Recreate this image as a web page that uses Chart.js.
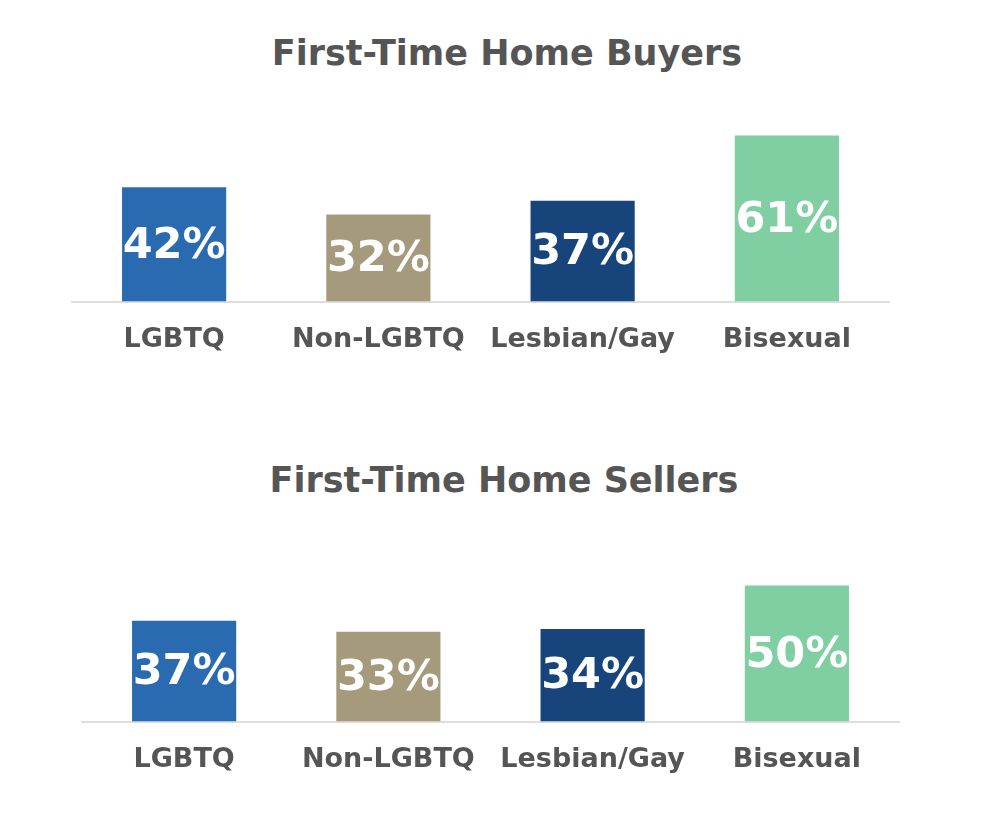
<!DOCTYPE html>
<html>
<head>
<meta charset="utf-8">
<script src="https://cdn.jsdelivr.net/npm/chart.js@4"></script>
<style>
  body { margin: 0; background: #fff; }
  #page { position: relative; width: 1002px; height: 818px; overflow: hidden; }
  .title {
    position: absolute; left: 0; width: 1014px; text-align: center;
    font-family: "DejaVu Sans", sans-serif; font-weight: bold; font-size: 35px;
    color: #555555; line-height: 40px;
  }
  .box { position: absolute; left: 0; width: 1002px; height: 267px; }
</style>
</head>
<body>
<div id="page">
  <div class="title" style="top:33px;">First-Time Home Buyers</div>
  <div class="box" style="top:111px;"><canvas id="buyersChart"></canvas></div>
  <div class="title" style="top:460px; width:1008px;">First-Time Home Sellers</div>
  <div class="box" style="top:531px;"><canvas id="sellersChart"></canvas></div>
</div>
<script>
let categories = ["LGBTQ", "Non-LGBTQ", "Lesbian/Gay", "Bisexual"];
let buyerValues = [42, 32, 37, 61];
let sellerValues = [37, 33, 34, 50];
let barColors = ["#2a6ab0", "#a69a7d", "#18447c", "#80cfa2"];

//white percent labels in the middle of each bar
let valueLabels = {
    id: "valueLabels",
    afterDatasetsDraw(chart) {
        let ctx = chart.ctx;
        let meta = chart.getDatasetMeta(0);
        ctx.save();
        ctx.fillStyle = "#fff";
        ctx.font = "bold 43px 'DejaVu Sans'";
        ctx.textAlign = "center";
        ctx.textBaseline = "middle";
        meta.data.forEach(function(bar, i) {
            let mid = (bar.y + bar.base) / 2;
            ctx.fillText(chart.data.datasets[0].data[i] + "%", bar.x, mid + 2);
        });
        ctx.restore();
    },
};

function makeChart(id, values, padLeft, padRight) {
    let canvas = document.getElementById(id).getContext("2d");
    return new Chart(canvas, {
        type: "bar",
        data: {
            labels: categories,
            datasets: [{
                data: values,
                backgroundColor: barColors,
                barPercentage: 0.51,
                categoryPercentage: 1,
            }, ],
        },
        options: {
            responsive: true,
            maintainAspectRatio: false,
            animation: false,
            layout: {
                padding: { left: padLeft, right: padRight, top: 0, bottom: 0 },
            },
            plugins: {
                legend: { display: false },
                tooltip: { enabled: false },
            },
            scales: {
                y: { display: false, min: 0, max: 70 },
                x: {
                    grid: { display: false, drawTicks: false },
                    border: { display: true, color: "#dedede", width: 2 },
                    ticks: {
                        padding: 22,
                        color: "#555555",
                        font: { family: "DejaVu Sans", weight: "bold", size: 27 },
                    },
                },
            },
        },
        plugins: [valueLabels],
    });
}

makeChart("buyersChart", buyerValues, 72, 113);
makeChart("sellersChart", sellerValues, 82, 103);
</script>
</body>
</html>
